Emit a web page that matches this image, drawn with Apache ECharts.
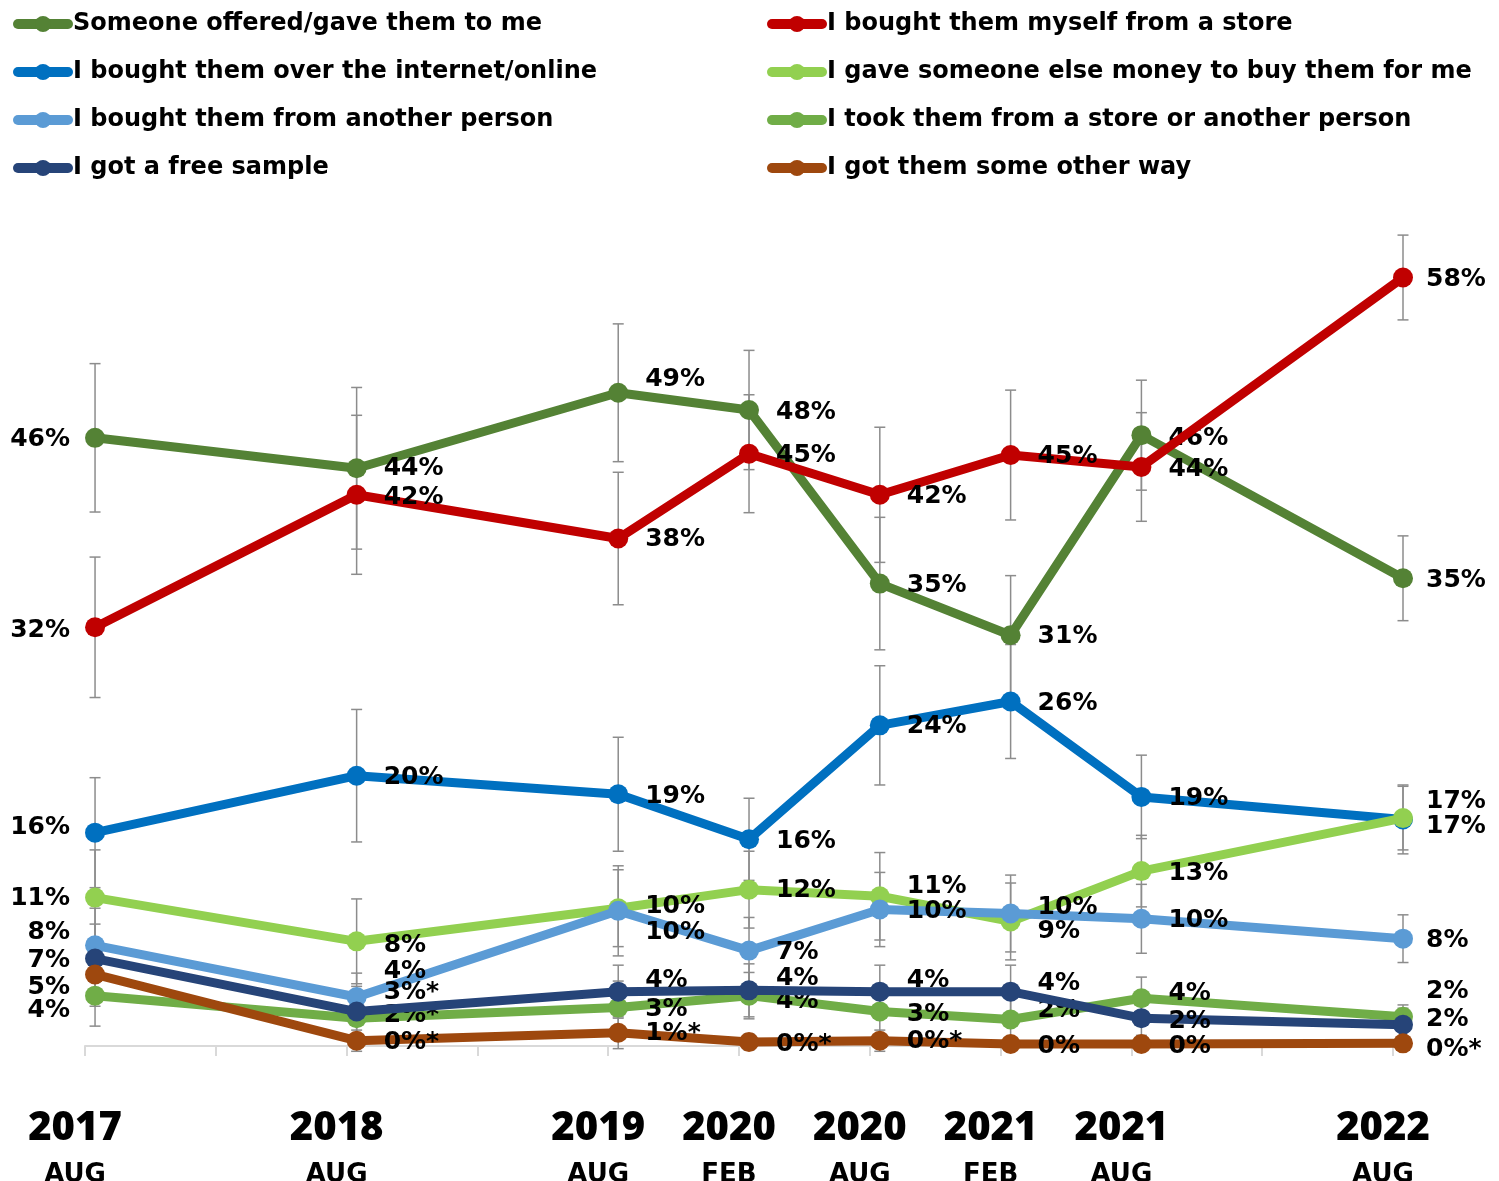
<!DOCTYPE html>
<html><head><meta charset="utf-8">
<script src="https://cdn.jsdelivr.net/npm/echarts@6/dist/echarts.min.js"></script>
<style>html,body{margin:0;padding:0;background:#fff}#c{width:1499px;height:1181px}</style>
</head><body><div id="c"></div>
<script>
// ---------- DATA ----------
const surveyDates = ['2017-08','2018-08','2019-08','2020-02','2020-08','2021-02','2021-08','2022-08'];
const tickYears  = ['2017','2018','2019','2020','2020','2021','2021','2022'];
const tickMonths = ['AUG','AUG','AUG','FEB','AUG','FEB','AUG','AUG'];

const seriesNames = [
  'Someone offered/gave them to me',
  'I bought them myself from a store',
  'I bought them over the internet/online',
  'I gave someone else money to buy them for me',
  'I bought them from another person',
  'I took them from a store or another person',
  'I got a free sample',
  'I got them some other way'
];

// percentages
const offeredGave  = [45.9, 43.6, 49.3, 48.0, 34.9, 31.0, 46.1, 35.3];
const boughtStore  = [31.6, 41.6, 38.3, 44.7, 41.6, 44.6, 43.7, 58.0];
const boughtOnline = [16.1, 20.4, 19.0, 15.6, 24.2, 26.0, 18.8, 17.1];
const gaveMoney    = [11.2, 7.9, 10.4, 11.8, 11.3, 9.4, 13.2, 17.2];
const boughtPerson = [7.6, 3.7, 10.2, 7.2, 10.3, 10.0, 9.6, 8.1];
const tookThem     = [3.8, 2.1, 2.9, 3.8, 2.6, 2.0, 3.6, 2.2];
const freeSample   = [6.6, 2.6, 4.1, 4.2, 4.1, 4.1, 2.1, 1.6];
const otherWay     = [5.4, 0.4, 1.0, 0.3, 0.4, 0.15, 0.15, 0.2];

// margins of error (+/- percentage points)
const moeOfferedGave  = [5.6, 6.1, 5.2, 4.5, 5.0, 4.5, 4.15, 3.2];
const moeBoughtStore  = [5.3, 6.0, 5.0, 4.45, 5.1, 4.9, 4.1, 3.2];
const moeBoughtOnline = [4.15, 5.0, 4.3, 3.1, 4.5, 4.3, 3.15, 2.6];
const moeGaveMoney    = [3.6, 3.2, 2.9, 2.9, 3.3, 2.9, 2.7, 2.4];
const moeBoughtPerson = [2.8, 1.8, 3.4, 2.5, 2.8, 2.9, 2.6, 1.8];
const moeTookThem     = [2.3, 1.7, 2.0, 1.75, 1.9, 1.6, 1.6, 0.9];
const moeFreeSample   = [2.6, 1.9, 2.0, 2.0, 2.0, 2.0, 1.3, 1.25];
const moeOtherWay     = [2.4, 0.8, 1.2, 0.6, 0.8, 0.5, 0.5, 0.5];

// points flagged with an asterisk (index into surveyDates)
const starTookThem   = [1];
const starFreeSample = [1];
const starOtherWay   = [1, 2, 3, 4, 7];

// ---------- STYLE / LAYOUT ----------
const colors = ['#548235','#C00000','#0070C0','#92D050','#5B9BD5','#70AD47','#264478','#9E480E'];
// vertical nudges of the value labels (px), to avoid overlaps
const labelNudge = [
  [2, 0, -13, 2, 2, 1, 3, 2],
  [3, 3, 1, 2, 2, 1, 3, 2],
  [-5, 2, 2, 2, 1, 2, 2, 7],
  [1, 4, -2, 1, -10, 10, 2, -17],
  [-13, -25, 22, 2, 2, -6, 2, 2],
  [15, -3, 2, 6, 3, -9, -5, -25],
  [2, -19, -11, -12, -11, -8, 3, -5],
  [13, 2, 1, 2, 1, 2, 2, 6]
];
const LABEL_FONT = 'DejaVu Sans';

const values = [offeredGave, boughtStore, boughtOnline, gaveMoney, boughtPerson, tookThem, freeSample, otherWay];
const moes = [moeOfferedGave, moeBoughtStore, moeBoughtOnline, moeGaveMoney, moeBoughtPerson, moeTookThem, moeFreeSample, moeOtherWay];
const stars = [[], [], [], [], [], starTookThem, starFreeSample, starOtherWay];

// x = months since Aug 2017 (survey fielded mid-month)
const SURVEY_DAY = 15;
const xs = surveyDates.map(d => {
  const [y, m] = d.split('-').map(Number);
  return (y - 2017) * 12 + (m - 8) + (SURVEY_DAY - 1) / 30.4;
});
const xMax = xs[xs.length - 1];
const tickVals = [];
for (let m = 0; m <= xMax; m += 6) tickVals.push(m);

const series = [];
values.forEach((vals, s) => {
  const moe = moes[s];
  series.push({
    type: 'custom',
    name: seriesNames[s] + ' (error)',
    z: 1, silent: true,
    xAxisIndex: 0, yAxisIndex: 0,
    data: vals.map((v, i) => [xs[i], v - moe[i], v + moe[i]]),
    encode: { x: 0, y: [1, 2] },
    renderItem(params, api) {
      const x = api.value(0);
      const lo = api.coord([x, api.value(1)]);
      const hi = api.coord([x, api.value(2)]);
      const w = 5.5;
      const style = { stroke: '#8C8C8C', lineWidth: 1.5 };
      return { type: 'group', children: [
        { type: 'line', shape: { x1: lo[0], y1: lo[1], x2: hi[0], y2: hi[1] }, style },
        { type: 'line', shape: { x1: lo[0] - w, y1: lo[1], x2: lo[0] + w, y2: lo[1] }, style },
        { type: 'line', shape: { x1: hi[0] - w, y1: hi[1], x2: hi[0] + w, y2: hi[1] }, style }
      ]};
    }
  });
});
values.forEach((vals, s) => {
  series.push({
    type: 'line',
    name: seriesNames[s],
    z: 3 + s,
    xAxisIndex: 0, yAxisIndex: 0,
    color: colors[s],
    symbol: 'circle',
    symbolSize: 20,
    showAllSymbol: true,
    lineStyle: { width: 9, color: colors[s] },
    itemStyle: { color: colors[s] },
    label: { show: true, fontFamily: LABEL_FONT, fontWeight: 'bold', fontSize: 25, color: '#000' },
    data: vals.map((v, i) => {
      const txt = Math.round(v) + '%' + (stars[s].includes(i) ? '*' : '');
      const first = i === 0, last = i === vals.length - 1;
      return {
        value: [xs[i], v],
        label: {
          position: first ? 'left' : 'right',
          distance: first ? 15 : (last ? 13 : 17),
          offset: [0, labelNudge[s][i]],
          formatter: txt
        }
      };
    })
  });
});

const legendCommon = {
  orient: 'vertical', top: 12, padding: 0, itemWidth: 50, itemHeight: 20, itemGap: 24,
  lineStyle: { width: 10, cap: 'round' },
  textStyle: { fontFamily: LABEL_FONT, fontWeight: 'bold', fontSize: 24, color: '#000' },
  selectedMode: false
};

const option = {
  animation: false,
  backgroundColor: '#fff',
  legend: [
    Object.assign({}, legendCommon, { left: 13, data: [0, 2, 4, 6].map(i => seriesNames[i]) }),
    Object.assign({}, legendCommon, { left: 767, data: [1, 3, 5, 7].map(i => seriesNames[i]) })
  ],
  grid: { left: 85, right: 1499 - 1403, top: 118.5, bottom: 135, containLabel: false, outerBoundsMode: 'none' },
  xAxis: [
    {
      type: 'value', min: 0, max: xMax, position: 'bottom',
      axisLine: { show: true, lineStyle: { color: '#D9D9D9', width: 2 } },
      axisTick: { show: true, customValues: tickVals, length: 10, lineStyle: { color: '#D9D9D9', width: 2 } },
      axisLabel: { show: false },
      splitLine: { show: false }
    },
    {
      type: 'value', min: 0, max: xMax, position: 'bottom',
      axisLine: { show: false }, axisTick: { show: false }, splitLine: { show: false },
      axisLabel: {
        show: true, margin: 60, customValues: xs, color: '#000',
        padding: [0, 40, 0, 0],
        formatter: (v) => {
          const i = xs.findIndex(p => Math.abs(p - v) < 1e-6);
          return i < 0 ? '' : '{y|' + tickYears[i] + '}\n{m|' + tickMonths[i] + '}';
        },
        rich: {
          y: { fontFamily: 'Open Sans', fontWeight: 800, fontSize: 40, lineHeight: 46, color: '#000' },
          m: { fontFamily: LABEL_FONT, fontWeight: 'bold', fontSize: 26, lineHeight: 46, color: '#000' }
        }
      }
    }
  ],
  yAxis: { type: 'value', min: 0, max: 70, show: false, splitLine: { show: false } },
  series
};

const chart = echarts.init(document.getElementById('c'), null, { renderer: 'canvas' });
chart.setOption(option);
</script>
</body></html>
